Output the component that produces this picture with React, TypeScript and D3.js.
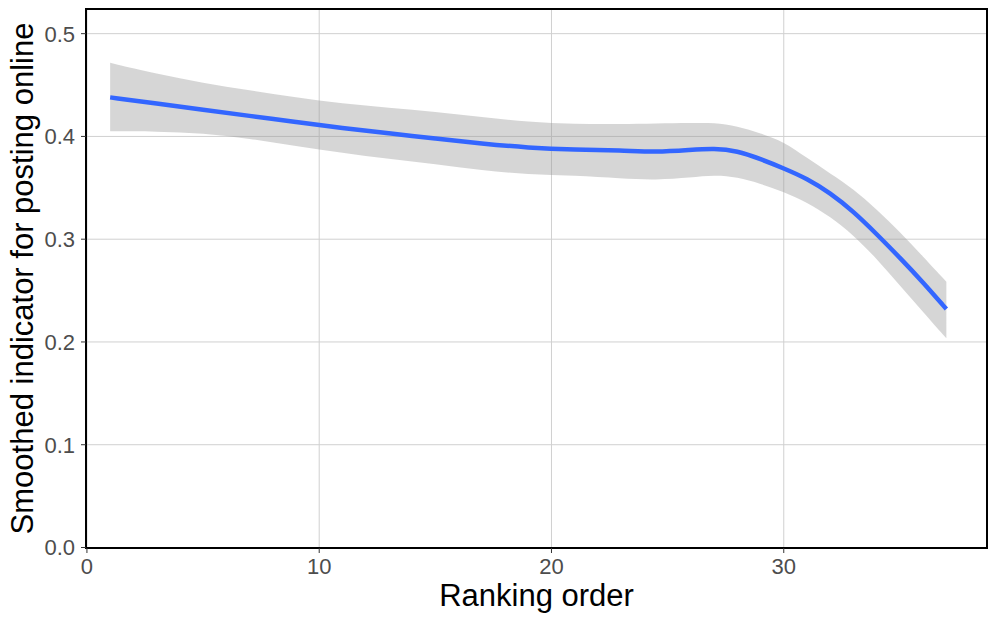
import React from "react";
import * as d3 from "d3";

const xs = [1, 3, 5, 7, 9, 11, 13, 15, 17, 19, 21, 23, 24.5, 26, 27, 28, 29, 30, 31, 32, 33, 34, 35, 36, 37];
const fit = [0.438, 0.432, 0.426, 0.420, 0.414, 0.408, 0.403, 0.398, 0.393, 0.389, 0.387, 0.3865, 0.3847, 0.387, 0.3885, 0.386, 0.378, 0.369, 0.359, 0.345, 0.327, 0.305, 0.282, 0.258, 0.232];
const upper = [0.4716, 0.461, 0.452, 0.445, 0.438, 0.432, 0.428, 0.424, 0.419, 0.414, 0.412, 0.412, 0.4126, 0.413, 0.4135, 0.410, 0.403, 0.395, 0.379, 0.364, 0.349, 0.329, 0.307, 0.283, 0.2586];
const lower = [0.405, 0.405, 0.403, 0.398, 0.3905, 0.384, 0.378, 0.373, 0.367, 0.363, 0.362, 0.359, 0.3575, 0.360, 0.3624, 0.3605, 0.354, 0.346, 0.336, 0.322, 0.304, 0.281, 0.255, 0.229, 0.2035];
const xTicks = [0, 10, 20, 30];
const yTicks = [0, 0.1, 0.2, 0.3, 0.4, 0.5];
const xTitle = "Ranking order";
const yTitle = "Smoothed indicator for posting online";

export default function App() {
  const W = 996, H = 623;
  const L = 86, R = 987, T = 9, B = 548;
  const x = d3.scaleLinear().domain([-0.04, 38.75]).range([L, R]);
  const y = d3.scaleLinear().domain([0, 0.524]).range([547.5, T]);
  const pts = xs.map((v, i) => ({ x: v, f: fit[i], u: upper[i], l: lower[i] }));
  const area = d3.area<any>().x(d => x(d.x)).y0(d => y(d.l)).y1(d => y(d.u)).curve(d3.curveBasis);
  const line = d3.line<any>().x(d => x(d.x)).y(d => y(d.f)).curve(d3.curveBasis);
  const font = "'Liberation Sans', Arial, Helvetica, sans-serif";
  return (
    <svg width={W} height={H} style={{ position: "absolute", left: 0, top: 0, background: "#fff" }} fontFamily={font}>
      <rect x={0} y={0} width={W} height={H} fill="#fff" />
      {xTicks.map(t => (
        <line key={"gx" + t} x1={x(t)} x2={x(t)} y1={T} y2={B} stroke="#d0d0d0" strokeWidth={1} />
      ))}
      {yTicks.map(t => (
        <line key={"gy" + t} x1={L} x2={R} y1={y(t)} y2={y(t)} stroke="#d0d0d0" strokeWidth={1} />
      ))}
      <path d={area(pts) || ""} fill="#999999" fillOpacity={0.4} />
      <path d={line(pts) || ""} fill="none" stroke="#3366FF" strokeWidth={4.5} />
      <rect x={L} y={T} width={R - L} height={B - T} fill="none" stroke="#000" strokeWidth={2} />
      {xTicks.map(t => (
        <g key={"tx" + t}>
          <line x1={x(t)} x2={x(t)} y1={B} y2={B + 5} stroke="#333" strokeWidth={1} />
          <text x={x(t)} y={574} textAnchor="middle" fontSize={22} fill="#4d4d4d">{t}</text>
        </g>
      ))}
      {yTicks.map(t => (
        <g key={"ty" + t}>
          <line x1={L - 5} x2={L} y1={y(t)} y2={y(t)} stroke="#333" strokeWidth={1} />
          <text x={75} y={y(t)} dy="0.36em" textAnchor="end" fontSize={22} fill="#4d4d4d">{t.toFixed(1)}</text>
        </g>
      ))}
      <text x={(L + R) / 2} y={606} textAnchor="middle" fontSize={31} fill="#000">{xTitle}</text>
      <text transform={`translate(${33},${(T + B) / 2}) rotate(-90)`} textAnchor="middle" fontSize={31} fill="#000">{yTitle}</text>
    </svg>
  );
}
